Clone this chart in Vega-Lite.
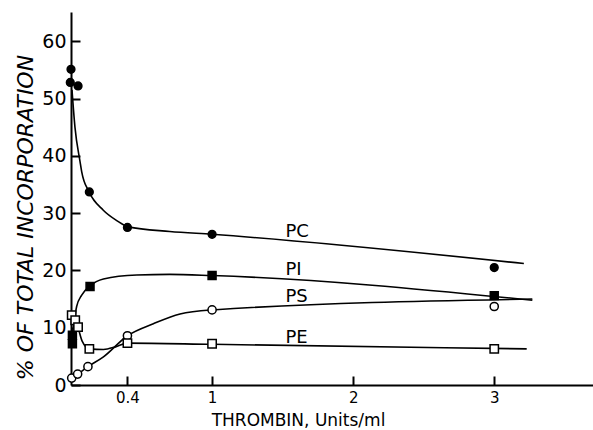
{
  "$schema": "https://vega.github.io/schema/vega-lite/v6.json",
  "width": 522,
  "height": 373,
  "autosize": "none",
  "padding": {"left": 71, "top": 12, "right": 0, "bottom": 45},
  "background": "white",
  "config": {"view": {"stroke": null}, "font": "DejaVu Sans"},
  "datasets": {
    "points": [
      {"series": "PC", "x": 0.0, "y": 55.1},
      {"series": "PC", "x": -0.005, "y": 52.8},
      {"series": "PC", "x": 0.05, "y": 52.2},
      {"series": "PC", "x": 0.13, "y": 33.7},
      {"series": "PC", "x": 0.4, "y": 27.5},
      {"series": "PC", "x": 1.0, "y": 26.3},
      {"series": "PC", "x": 3.0, "y": 20.5},
      {"series": "PI", "x": 0.01, "y": 7.2},
      {"series": "PI", "x": 0.01, "y": 8.7},
      {"series": "PI", "x": 0.135, "y": 17.2},
      {"series": "PI", "x": 1.0, "y": 19.1},
      {"series": "PI", "x": 3.0, "y": 15.6},
      {"series": "PS", "x": 0.005, "y": 1.2},
      {"series": "PS", "x": 0.047, "y": 1.9},
      {"series": "PS", "x": 0.12, "y": 3.2},
      {"series": "PS", "x": 0.4, "y": 8.6},
      {"series": "PS", "x": 1.0, "y": 13.1},
      {"series": "PS", "x": 3.0, "y": 13.7},
      {"series": "PE", "x": 0.005, "y": 12.2},
      {"series": "PE", "x": 0.03, "y": 11.3},
      {"series": "PE", "x": 0.05, "y": 10.1},
      {"series": "PE", "x": 0.13, "y": 6.3},
      {"series": "PE", "x": 0.4, "y": 7.3},
      {"series": "PE", "x": 1.0, "y": 7.2},
      {"series": "PE", "x": 3.0, "y": 6.3}
    ],
    "curves": [
      {"series": "PC", "x": 0.007, "y": 51.5},
      {"series": "PC", "x": 0.028, "y": 45.0},
      {"series": "PC", "x": 0.064, "y": 39.0},
      {"series": "PC", "x": 0.076, "y": 37.2},
      {"series": "PC", "x": 0.128, "y": 33.7},
      {"series": "PC", "x": 0.229, "y": 30.5},
      {"series": "PC", "x": 0.324, "y": 28.7},
      {"series": "PC", "x": 0.406, "y": 27.6},
      {"series": "PC", "x": 0.7, "y": 26.8},
      {"series": "PC", "x": 1.0, "y": 26.3},
      {"series": "PC", "x": 3.21, "y": 21.2},
      {"series": "PI", "x": 0.01, "y": 9.0},
      {"series": "PI", "x": 0.04, "y": 13.7},
      {"series": "PI", "x": 0.076, "y": 15.7},
      {"series": "PI", "x": 0.135, "y": 17.3},
      {"series": "PI", "x": 0.23, "y": 18.5},
      {"series": "PI", "x": 0.466, "y": 19.2},
      {"series": "PI", "x": 0.7, "y": 19.3},
      {"series": "PI", "x": 1.0, "y": 19.1},
      {"series": "PI", "x": 3.27, "y": 14.8},
      {"series": "PS", "x": 0.005, "y": 1.2},
      {"series": "PS", "x": 0.047, "y": 1.9},
      {"series": "PS", "x": 0.12, "y": 3.2},
      {"series": "PS", "x": 0.23, "y": 4.9},
      {"series": "PS", "x": 0.4, "y": 8.6},
      {"series": "PS", "x": 0.584, "y": 10.7},
      {"series": "PS", "x": 0.773, "y": 12.4},
      {"series": "PS", "x": 1.0, "y": 13.1},
      {"series": "PS", "x": 3.27, "y": 15.0},
      {"series": "PE", "x": 0.005, "y": 12.2},
      {"series": "PE", "x": 0.03, "y": 11.3},
      {"series": "PE", "x": 0.05, "y": 10.0},
      {"series": "PE", "x": 0.08, "y": 7.6},
      {"series": "PE", "x": 0.13, "y": 6.3},
      {"series": "PE", "x": 0.23, "y": 6.2},
      {"series": "PE", "x": 0.32, "y": 6.7},
      {"series": "PE", "x": 0.4, "y": 7.3},
      {"series": "PE", "x": 1.0, "y": 7.1},
      {"series": "PE", "x": 3.23, "y": 6.3}
    ],
    "labels": [
      {"series": "PC", "x": 1.52, "y": 26.7},
      {"series": "PI", "x": 1.52, "y": 20.0},
      {"series": "PS", "x": 1.52, "y": 15.4},
      {"series": "PE", "x": 1.52, "y": 8.2}
    ]
  },
  "layer": [
    {
      "data": {"name": "curves"},
      "mark": {"type": "line", "interpolate": "monotone", "color": "black", "strokeWidth": 1.6, "clip": true},
      "encoding": {
        "x": {
          "field": "x", "type": "quantitative",
          "scale": {"domain": [0, 3.7], "nice": false, "zero": false},
          "axis": {
            "values": [0.4, 1, 2, 3],
            "format": "~g",
            "grid": false,
            "domainColor": "black", "domainWidth": 2,
            "tickColor": "black", "tickWidth": 2, "tickSize": -9,
            "labelFontSize": 15, "labelColor": "black", "labelPadding": 14,
            "title": "THROMBIN, Units/ml",
            "titleFontSize": 17, "titleFontWeight": "normal", "titleColor": "black",
            "titleX": 227, "titleY": 40, "titleBaseline": "alphabetic",
            "labelFlush": false
          }
        },
        "y": {
          "field": "y", "type": "quantitative",
          "scale": {"domain": [0, 65.1], "nice": false},
          "axis": {
            "values": [0, 10, 20, 30, 40, 50, 60],
            "grid": false,
            "domainColor": "black", "domainWidth": 2,
            "tickColor": "black", "tickWidth": 2, "tickSize": -9,
            "labelFontSize": 19, "labelColor": "black", "labelPadding": 14,
            "title": "% OF TOTAL INCORPORATION",
            "titleFontSize": 22, "titleFontWeight": "normal", "titleFontStyle": "italic", "titleColor": "black",
            "titleX": -46, "titleY": 205, "titleBaseline": "middle",
            "labelFlush": false
          }
        },
        "detail": {"field": "series"}
      }
    },
    {
      "data": {"name": "points"},
      "mark": {"type": "point", "stroke": "black", "strokeWidth": 1.5, "opacity": 1},
      "encoding": {
        "x": {"field": "x", "type": "quantitative"},
        "y": {"field": "y", "type": "quantitative"},
        "shape": {"field": "series", "type": "nominal", "legend": null,
          "scale": {"domain": ["PC", "PI", "PS", "PE"], "range": ["circle", "square", "circle", "square"]}},
        "fill": {"field": "series", "type": "nominal", "legend": null,
          "scale": {"domain": ["PC", "PI", "PS", "PE"], "range": ["black", "black", "white", "white"]}},
        "size": {"field": "series", "type": "nominal", "legend": null,
          "scale": {"domain": ["PC", "PI", "PS", "PE"], "range": [60, 70, 40, 55]}}
      }
    },
    {
      "data": {"name": "labels"},
      "mark": {"type": "text", "align": "left", "baseline": "middle", "fontSize": 18, "color": "black"},
      "encoding": {
        "x": {"field": "x", "type": "quantitative"},
        "y": {"field": "y", "type": "quantitative"},
        "text": {"field": "series"}
      }
    }
  ]
}
